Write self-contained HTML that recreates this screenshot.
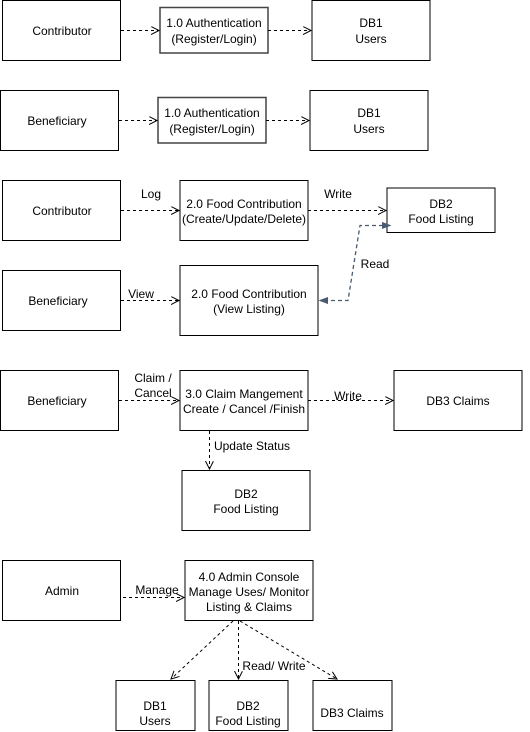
<!DOCTYPE html>
<html><head><meta charset="utf-8"><style>
body{margin:0;background:#fff;}
svg{display:block;font-family:"Liberation Sans",Arial,sans-serif;font-size:12px;}
</style></head><body>
<svg width="530" height="732" viewBox="0 0 530 732" xmlns="http://www.w3.org/2000/svg">
<defs>
<marker id="a" markerWidth="10" markerHeight="10" refX="8" refY="4" orient="auto" markerUnits="userSpaceOnUse">
<path d="M0,0 L8,4 L0,8" fill="none" stroke="#000" stroke-width="1"/></marker>
<marker id="b" markerWidth="10" markerHeight="10" refX="8" refY="4" orient="auto-start-reverse" markerUnits="userSpaceOnUse">
<path d="M0,1 L8,4 L0,7 Z" fill="#4a5a70" stroke="#4a5a70"/></marker>
</defs>
<g fill="#fff" stroke="#000" stroke-width="1">
<rect x="2.5" y="0.5" width="118" height="60"/>
<rect x="160" y="7.5" width="108" height="45.5" stroke="#444" stroke-width="1.5"/>
<rect x="312" y="0.5" width="118" height="60"/>
<rect x="0.5" y="90.5" width="118" height="60"/>
<rect x="158" y="97.5" width="108" height="45.5" stroke="#444" stroke-width="1.5"/>
<rect x="310" y="90.5" width="118" height="60"/>
<rect x="2.5" y="180.5" width="118" height="60"/>
<rect x="180" y="180.5" width="128" height="60"/>
<rect x="387" y="188" width="108" height="44.5"/>
<rect x="2.5" y="270.5" width="118" height="60"/>
<rect x="180" y="265.5" width="138" height="70"/>
<rect x="0.5" y="370.5" width="118" height="60"/>
<rect x="180" y="370.5" width="128" height="60"/>
<rect x="394" y="370.5" width="128" height="60"/>
<rect x="182" y="470.5" width="128" height="60"/>
<rect x="2.5" y="560.5" width="118" height="60"/>
<rect x="185" y="560.5" width="128" height="60"/>
<rect x="116" y="680.5" width="79" height="50"/>
<rect x="209" y="680.5" width="79" height="50"/>
<rect x="313" y="680.5" width="79" height="50"/>
</g>
<g stroke="#000" stroke-width="1" stroke-dasharray="3,3" fill="none" marker-end="url(#a)">
<path d="M121,30.5H159"/><path d="M268,30.5H311"/>
<path d="M119,120.5H157"/><path d="M266,120.5H309"/>
<path d="M121,210.5H179"/><path d="M308,210.5H386"/>
<path d="M121,300.5H179"/>
<path d="M119,400.5H179"/><path d="M308,400.5H393"/>
<path d="M209.5,431V469"/>
<path d="M123,597.5H184"/>
<path d="M233,621L171,679"/><path d="M238.5,621V679"/><path d="M240,621L337,679"/>
</g>
<path d="M390,225.5H360L348,300.5H320" stroke="#4a5a70" stroke-width="1.3" stroke-dasharray="4,3" fill="none" marker-end="url(#b)" marker-start="url(#b)"/>
<g text-anchor="middle" fill="#000">
<text x="62" y="35">Contributor</text>
<text x="214" y="27">1.0 Authentication</text><text x="214" y="43">(Register/Login)</text>
<text x="371" y="27">DB1</text><text x="371" y="43">Users</text>
<text x="57" y="125">Beneficiary</text>
<text x="212" y="117">1.0 Authentication</text><text x="212" y="133">(Register/Login)</text>
<text x="369" y="117">DB1</text><text x="369" y="133">Users</text>
<text x="62" y="215">Contributor</text>
<text x="244" y="208">2.0 Food Contribution</text><text x="244" y="223">(Create/Update/Delete)</text>
<text x="441" y="208">DB2</text><text x="441" y="223">Food Listing</text>
<text x="58" y="305">Beneficiary</text>
<text x="249" y="298">2.0 Food Contribution</text><text x="249" y="313">(View Listing)</text>
<text x="57" y="405">Beneficiary</text>
<text x="244" y="398">3.0 Claim Mangement</text><text x="244" y="413">Create / Cancel /Finish</text>
<text x="458" y="405">DB3 Claims</text>
<text x="246" y="498">DB2</text><text x="246" y="513">Food Listing</text>
<text x="62" y="595">Admin</text>
<text x="249" y="581">4.0 Admin Console</text><text x="249" y="596">Manage Uses/ Monitor</text><text x="249" y="611">Listing &amp; Claims</text>
<text x="155" y="710">DB1</text><text x="155" y="725">Users</text>
<text x="248" y="710">DB2</text><text x="248" y="725">Food Listing</text>
<text x="352" y="717">DB3 Claims</text>
<text x="151" y="198">Log</text>
<text x="338" y="198">Write</text>
<text x="141" y="298">View</text>
<text x="375" y="268">Read</text>
<text x="153" y="382">Claim /</text><text x="153" y="397">Cancel</text>
<text x="348" y="400">Write</text>
<text x="252" y="450">Update Status</text>
<text x="157" y="594">Manage</text>
<text x="274" y="670">Read/ Write</text>
</g>
</svg>
</body></html>
